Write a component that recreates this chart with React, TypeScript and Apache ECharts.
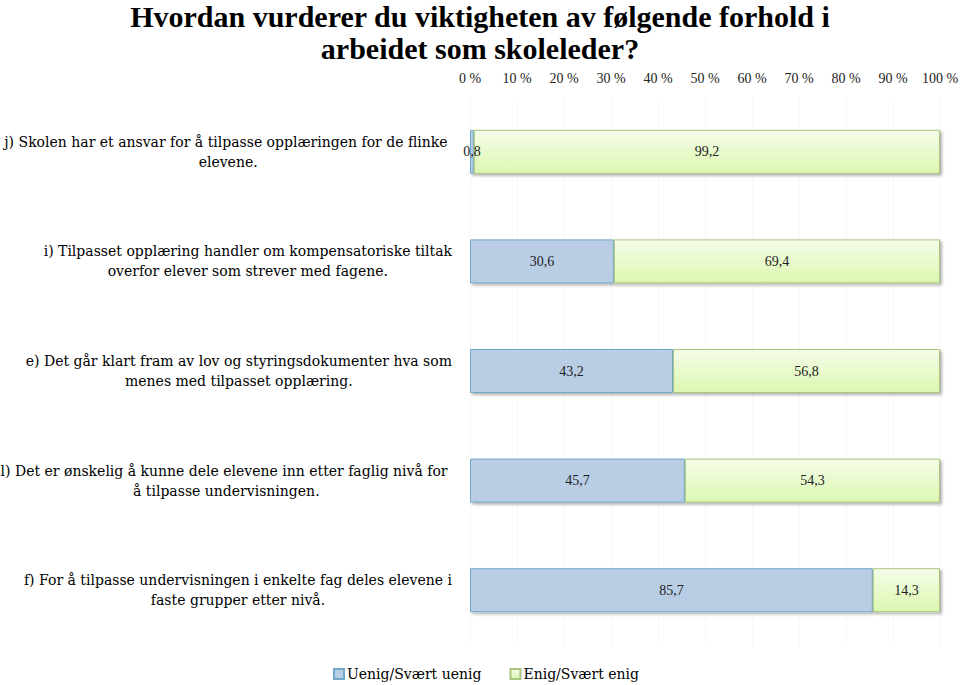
import React, { useEffect, useRef } from "react";
import * as echarts from "echarts";

const titleLines = [
  "Hvordan vurderer du viktigheten av følgende forhold i",
  "arbeidet som skoleleder?",
];

const categories = [
  "j) Skolen har et ansvar for å tilpasse opplæringen for de flinke \nelevene.",
  "i) Tilpasset opplæring handler om kompensatoriske tiltak\noverfor elever som strever med fagene.",
  "e) Det går klart fram av lov og styringsdokumenter hva som\nmenes med tilpasset opplæring.",
  "l) Det er ønskelig å kunne dele elevene inn etter faglig nivå for \nå tilpasse undervisningen.",
  "f) For å tilpasse undervisningen i enkelte fag deles elevene i\nfaste grupper etter nivå.",
];

const seriesNames = ["Uenig/Svært uenig", "Enig/Svært enig"];
const disagreeValues = [0.8, 30.6, 43.2, 45.7, 85.7];
const agreeValues = [99.2, 69.4, 56.8, 54.3, 14.3];

const SERIF = "'Liberation Serif', 'DejaVu Serif', serif";
const WIDE_SERIF = "'DejaVu Serif', 'Liberation Serif', serif";

export default function App() {
  const ref = useRef<HTMLDivElement>(null);

  useEffect(() => {
    document.body.style.margin = "0";
    if (!ref.current) return;
    const chart = echarts.init(ref.current, null, { renderer: "svg" });

    const shadow = {
      shadowBlur: 3,
      shadowOffsetX: 2,
      shadowOffsetY: 2,
      shadowColor: "rgba(0,0,0,0.3)",
    };

    const labelFmt = (p: any) => String(p.value).replace(".", ",");

    chart.setOption({
      animation: false,
      backgroundColor: "#ffffff",
      title: {
        text: titleLines.join("\n"),
        left: "center",
        top: 0,
        padding: 0,
        textStyle: {
          fontFamily: SERIF,
          fontWeight: "bold",
          fontSize: 30,
          lineHeight: 32,
          color: "#000",
        },
      },
      legend: {
        bottom: 4,
        left: 333,
        padding: 0,
        itemWidth: 10,
        itemHeight: 10,
        itemGap: 28,
        icon: "rect",
        textStyle: {
          fontFamily: WIDE_SERIF,
          fontSize: 14,
          color: "#000",
          padding: [0, 0, 0, -2],
        },
        data: seriesNames,
      },
      grid: {
        left: 470,
        right: 20,
        top: 97,
        bottom: 40,
        containLabel: false,
        outerBoundsMode: "none",
      },
      xAxis: {
        type: "value",
        position: "top",
        min: 0,
        max: 100,
        interval: 10,
        axisLine: { show: false },
        axisTick: { show: false },
        axisLabel: {
          formatter: "{value} %",
          fontFamily: SERIF,
          fontSize: 14,
          color: "#222",
          margin: 12,
        },
        splitLine: { show: true, lineStyle: { color: "#f8f8f8", width: 1 } },
      },
      yAxis: {
        type: "category",
        inverse: true,
        data: categories,
        axisLine: { show: false },
        axisTick: { show: false },
        axisLabel: {
          margin: 18,
          align: "right",
          formatter: (v: string) =>
            v
              .split("\n")
              .map((l) => `{a|${l}}`)
              .join("\n"),
          rich: {
            a: {
              align: "center",
              fontFamily: WIDE_SERIF,
              fontSize: 14,
              lineHeight: 20,
              color: "#000",
            },
          },
        },
      },
      series: [
        {
          name: seriesNames[0],
          type: "bar",
          stack: "total",
          barWidth: 44,
          data: disagreeValues,
          itemStyle: {
            color: "#b9cde5",
            borderColor: "#6fa8c8",
            borderWidth: 1,
            ...shadow,
          },
          label: {
            show: true,
            position: "inside",
            formatter: labelFmt,
            fontFamily: SERIF,
            fontSize: 14,
            color: "#222",
          },
        },
        {
          name: seriesNames[1],
          type: "bar",
          stack: "total",
          barWidth: 44,
          data: agreeValues,
          itemStyle: {
            color: new echarts.graphic.LinearGradient(0, 0, 0, 1, [
              { offset: 0, color: "#f5fde9" },
              { offset: 1, color: "#dcf7b0" },
            ]),
            borderColor: "#a9c57e",
            borderWidth: 1,
            ...shadow,
          },
          label: {
            show: true,
            position: "inside",
            formatter: labelFmt,
            fontFamily: SERIF,
            fontSize: 14,
            color: "#222",
          },
        },
      ],
    });

    return () => chart.dispose();
  }, []);

  return <div ref={ref} style={{ width: 960, height: 685 }} />;
}
